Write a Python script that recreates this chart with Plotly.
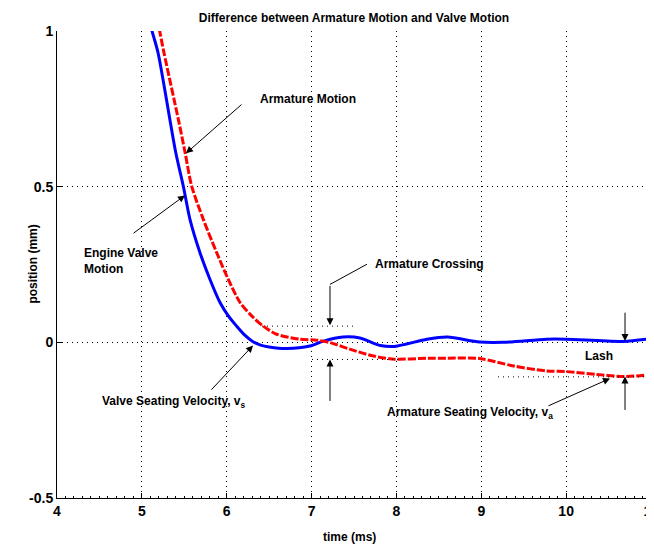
import plotly.graph_objects as go

# Engine valve motion (blue, solid)
valve_t = [5.06, 5.12, 5.19, 5.33, 5.40, 5.488, 5.567, 5.685, 5.803, 5.921, 6.019, 6.117, 6.21, 6.31, 6.40,
           6.50, 6.71, 6.98, 7.14, 7.37, 7.57, 7.81, 7.98, 8.36, 8.60, 8.98, 9.26, 9.77, 10.0, 10.67, 11.0]
valve_x = [1.07, 1.00, 0.931, 0.716, 0.609, 0.502, 0.395, 0.288, 0.202, 0.128, 0.085, 0.052, 0.024, 0.002, -0.009,
           -0.015, -0.020, -0.012, 0.004, 0.017, 0.014, -0.010, -0.013, 0.010, 0.017, 0.001, 0.0, 0.010, 0.010, 0.003, 0.012]

# Armature motion (red, dashed)
arm_t = [5.16, 5.21, 5.26, 5.43, 5.51, 5.587, 5.724, 5.882, 6.019, 6.157, 6.294, 6.431, 6.588, 6.86, 7.06,
         7.22, 7.45, 7.73, 7.98, 8.36, 8.60, 8.98, 9.38, 9.77, 10.0, 10.36, 10.69, 11.0]
arm_x = [1.07, 1.00, 0.931, 0.716, 0.609, 0.502, 0.395, 0.288, 0.202, 0.128, 0.085, 0.052, 0.026, 0.010, 0.007,
         -0.001, -0.022, -0.044, -0.054, -0.051, -0.051, -0.052, -0.076, -0.092, -0.094, -0.103, -0.110, -0.103]

x_ticks = [4, 5, 6, 7, 8, 9, 10, 11]
y_ticks = [-0.5, 0, 0.5, 1]
y_tick_labels = ["-0.5", "0", "0.5", "1"]

FONT = "Liberation Sans, Arial, Helvetica, sans-serif"
GRID_DASH = "1px,4px"

fig = go.Figure()
fig.add_trace(go.Scatter(x=valve_t, y=valve_x, mode="lines",
                         line=dict(color="#0000ff", width=3, shape="spline", smoothing=0.8),
                         name="Engine Valve Motion", showlegend=False))
fig.add_trace(go.Scatter(x=arm_t, y=arm_x, mode="lines",
                         line=dict(color="#ff0000", width=3, dash="8px,2px", shape="spline", smoothing=0.8),
                         name="Armature Motion", showlegend=False))

# right-edge dotted grid line (x = 11)
fig.add_shape(type="line", x0=x_ticks[-1], x1=x_ticks[-1], y0=0, y1=1, xref="x", yref="paper",
              line=dict(color="black", width=1, dash=GRID_DASH), layer="below")

# dotted reference lines
for x0, x1, y in [(6.416, 7.488, 0.052), (7.005, 8.042, -0.055), (9.197, 10.988, -0.111)]:
    fig.add_shape(type="line", x0=x0, x1=x1, y0=y, y1=y, xref="x", yref="y",
                  line=dict(color="black", width=1, dash=GRID_DASH))
# Armature crossing leader segment
fig.add_shape(type="line", x0=7.653, y0=0.251, x1=7.217, y1=0.186, xref="x", yref="y",
              line=dict(color="black", width=1))

def arrow(x, y, ax, ay):
    fig.add_annotation(x=x, y=y, ax=ax, ay=ay, xref="x", yref="y", axref="x", ayref="y",
                       text="", showarrow=True, arrowhead=2, arrowsize=1.4, arrowwidth=1, arrowcolor="black")

arrow(5.520, 0.607, 6.192, 0.768)
arrow(5.508, 0.472, 4.884, 0.347)
arrow(7.217, 0.055, 7.217, 0.186)
arrow(7.217, -0.055, 7.217, -0.193)
arrow(6.310, -0.010, 5.803, -0.157)
arrow(10.694, 0.004, 10.694, 0.100)
arrow(10.694, -0.110, 10.694, -0.222)
arrow(10.517, -0.116, 9.774, -0.206)

def label(x, y, txt):
    fig.add_annotation(x=x, y=y, xref="x", yref="y", text=txt, showarrow=False, xanchor="left",
                       yanchor="middle", align="left", font=dict(family=FONT, size=12, color="black"))

label(6.369, 0.781, "<b>Armature Motion</b>")
label(4.295, 0.26, "<b>Engine Valve<br>Motion</b>")
label(7.724, 0.251, "<b>Armature Crossing</b>")
label(4.507, -0.193, "<b>Valve Seating Velocity, v<sub>s</sub></b>")
label(10.199, -0.045, "<b>Lash</b>")
label(7.865, -0.228, "<b>Armature Seating Velocity, v<sub>a</sub></b>")

# axis titles as annotations for exact placement
fig.add_annotation(x=0.493, y=-0.083, xref="paper", yref="paper", text="<b>time (ms)</b>", showarrow=False,
                   xanchor="center", yanchor="middle", font=dict(family=FONT, size=12, color="black"))
fig.add_annotation(x=-0.042, y=0.5, xref="paper", yref="paper", text="<b>position (mm)</b>", showarrow=False,
                   textangle=-90, xanchor="center", yanchor="middle", font=dict(family=FONT, size=12, color="black"))

fig.update_layout(
    width=646, height=538,
    margin=dict(l=49, r=3, t=23, b=48, autoexpand=False),
    paper_bgcolor="white", plot_bgcolor="white",
    font=dict(family=FONT, color="black"),
    title=dict(text="<b>Difference between Armature Motion and Valve Motion</b>", x=0.5, xref="paper",
               xanchor="center", y=0.981, yanchor="middle", font=dict(size=12, family=FONT)),
    showlegend=False,
)
fig.update_xaxes(range=[4, 11], tickvals=x_ticks, ticktext=[f"<b>{v}</b>" for v in x_ticks],
                 showline=True, linecolor="black", linewidth=1, ticks="inside", ticklen=5, tickcolor="black",
                 showgrid=True, gridcolor="black", gridwidth=1, griddash=GRID_DASH, zeroline=False,
                 tickfont=dict(size=14, family=FONT), ticklabeloverflow="allow", automargin=False,
                 minor=dict(ticks="inside", ticklen=2, dtick=0.1, tickcolor="black", showgrid=False))
fig.update_yaxes(range=[-0.5, 1], tickvals=y_ticks, ticktext=[f"<b>{t}</b>" for t in y_tick_labels],
                 showline=True, linecolor="black", linewidth=1, ticks="inside", ticklen=5, tickcolor="black",
                 showgrid=True, gridcolor="black", gridwidth=1, griddash=GRID_DASH, zeroline=False,
                 tickfont=dict(size=14, family=FONT), ticklabeloverflow="allow", automargin=False)

fig.write_html("out.html")
